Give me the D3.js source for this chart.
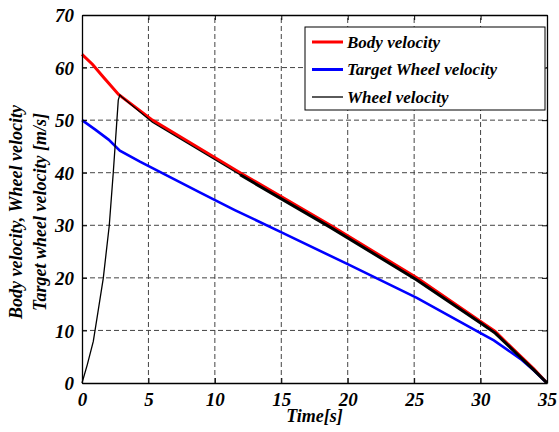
<!DOCTYPE html>
<html>
<head>
<meta charset="utf-8">
<style>
  body { margin: 0; background: #fff; }
  .main svg text { font-family: "Times New Roman", "Liberation Serif", serif !important; font-weight: 700 !important; font-style: italic !important; }
</style>
</head>
<body>
<div class="main"></div>
<script src="https://cdn.jsdelivr.net/npm/d3@7"></script>
<script>

// body velocity (red)
const bodyTime  = [0, 0.8, 1.6, 2.75, 5.3, 11.9, 18.7, 25.2, 30, 31.1, 33, 34, 35]
const bodyValue = [62.5, 60.6, 58.2, 54.9, 50, 40, 30, 20, 11.7, 9.8, 5.1, 2.7, 0]

// target wheel velocity (blue)
const targetTime  = [0, 1, 2, 2.85, 4.36, 8.9, 11.5, 14.9, 20, 25.2, 30, 31, 33, 34, 35]
const targetValue = [50, 48.2, 46.3, 44.2, 42.1, 36.2, 32.9, 28.8, 22.6, 16.2, 9.5, 8.1, 4.6, 2.4, 0]

// wheel velocity (black)
const wheelTime  = [0, 0.4, 0.85, 1.2, 1.6, 2.05, 2.35, 2.6, 2.73, 2.85, 3.0, 5.3, 11.9, 18.7, 25.2, 30, 31.1, 33, 34, 35]
const wheelValue = [0, 3.5, 7.9, 13.5, 19.9, 29.9, 39.9, 49, 53.8, 54.8, 54.4, 49.6, 39.6, 29.6, 19.6, 11.4, 9.5, 4.9, 2.5, 0]

const xTicks = [0, 5, 10, 15, 20, 25, 30, 35]
const yTicks = [0, 10, 20, 30, 40, 50, 60, 70]

const legendNames = ["Body velocity", "Target Wheel velocity", "Wheel velocity"]
const legendColors = ["#ff0000", "#0000ff", "#000000"]

const chart = () => {

    ////////////
    // CANVAS //
    ////////////

    const w = 559
    const h = 432
    const padding = { top: 15, right: 12, bottom: 49, left: 82 }

    const svg = d3.select(".main")
        .append("svg")
        .attr("width", w)
        .attr("height", h)
        .attr("font-family", "Times New Roman")
        .attr("font-weight", "bold")
        .attr("font-style", "italic")

    ////////////
    // SCALES //
    ////////////

    const xScale = d3.scaleLinear()
        .domain([0, 35])
        .range([padding.left, w - padding.right])

    const yScale = d3.scaleLinear()
        .domain([0, 70])
        .range([h - padding.bottom, padding.top])

    //////////
    // GRID //
    //////////

    const grid = svg.append("g")
        .attr("stroke", "#444")
        .attr("stroke-width", 1)
        .attr("stroke-dasharray", "5,3")

    grid.selectAll(".vgrid")
        .data(xTicks.slice(1, -1))
        .enter()
        .append("line")
        .attr("x1", d => xScale(d))
        .attr("x2", d => xScale(d))
        .attr("y1", yScale(0))
        .attr("y2", yScale(70))

    grid.selectAll(".hgrid")
        .data(yTicks.slice(1, -1))
        .enter()
        .append("line")
        .attr("x1", xScale(0))
        .attr("x2", xScale(35))
        .attr("y1", d => yScale(d))
        .attr("y2", d => yScale(d))

    ///////////
    // LINES //
    ///////////

    const line = d3.line()
        .x(d => xScale(d[0]))
        .y(d => yScale(d[1]))

    const bodyData = d3.zip(bodyTime, bodyValue)
    const targetData = d3.zip(targetTime, targetValue)
    const wheelData = d3.zip(wheelTime, wheelValue)

    svg.append("path")
        .attr("d", line(bodyData))
        .attr("fill", "none")
        .attr("stroke", legendColors[0])
        .attr("stroke-width", 3)

    svg.append("path")
        .attr("d", line(targetData))
        .attr("fill", "none")
        .attr("stroke", legendColors[1])
        .attr("stroke-width", 2.6)

    svg.append("path")
        .attr("d", line(wheelData))
        .attr("fill", "none")
        .attr("stroke", legendColors[2])
        .attr("stroke-width", 1.3)

    // the wheel signal chatters later on, drawn as a thicker trace
    svg.append("path")
        .attr("d", line(wheelData.filter(d => d[0] >= 11.9)))
        .attr("fill", "none")
        .attr("stroke", legendColors[2])
        .attr("stroke-width", 3)

    ///////////
    // AXLES //
    ///////////

    const xAxis = d3.axisBottom(xScale).tickValues(xTicks).tickSizeInner(-5).tickSizeOuter(0).tickPadding(10)
    const yAxis = d3.axisLeft(yScale).tickValues(yTicks).tickSizeInner(-5).tickSizeOuter(0).tickPadding(8)

    const xAxisDefined = svg.append("g")
        .attr("transform", `translate(0, ${h - padding.bottom})`)
        .call(xAxis)

    const yAxisDefined = svg.append("g")
        .attr("transform", `translate(${padding.left}, 0)`)
        .call(yAxis)

    svg.append("g")
        .attr("transform", `translate(0, ${padding.top})`)
        .call(d3.axisTop(xScale).tickValues(xTicks).tickSizeInner(-5).tickSizeOuter(0).tickFormat(""))

    svg.append("g")
        .attr("transform", `translate(${w - padding.right}, 0)`)
        .call(d3.axisRight(yScale).tickValues(yTicks).tickSizeInner(-5).tickSizeOuter(0).tickFormat(""))

    // d3 axes put their own sans-serif font on the group, drop it
    svg.selectAll("g").attr("font-family", null)
    svg.selectAll(".domain").attr("stroke", "#000").attr("stroke-width", 1.3)
    svg.selectAll(".tick line").attr("stroke", "#000")

    xAxisDefined.attr("font-size", 19)
    yAxisDefined.attr("font-size", 19)
    xAxisDefined.selectAll("text").attr("fill", "#000")
    yAxisDefined.selectAll("text").attr("fill", "#000").attr("dy", "0.35em")

    svg.append("text")
        .text("Time[s]")
        .attr("x", (xScale(0) + xScale(35)) / 2)
        .attr("y", 422)
        .attr("text-anchor", "middle")
        .attr("font-size", 18)

    const ySubtitle = svg.append("g")
        .attr("transform", `translate(0, 212) rotate(-90)`)
        .attr("font-size", 18)

    ySubtitle.append("text")
        .text("Body velocity, Wheel velocity")
        .attr("x", 0)
        .attr("y", 22)
        .attr("text-anchor", "middle")

    ySubtitle.append("text")
        .text("Target wheel velocity [m/s]")
        .attr("x", 0)
        .attr("y", 46)
        .attr("text-anchor", "middle")

    ////////////
    // LEGEND //
    ////////////

    const legend = svg.append("g")
        .attr("transform", "translate(305, 27)")
        .attr("font-size", 17)

    legend.append("rect")
        .attr("width", 240)
        .attr("height", 83)
        .attr("fill", "#fff")
        .attr("stroke", "#000")
        .attr("stroke-width", 1)

    const items = legend.selectAll(".item")
        .data(legendNames)
        .enter()
        .append("g")
        .attr("transform", (d, i) => `translate(0, ${15 + i * 27.5})`)

    items.append("line")
        .attr("x1", 7)
        .attr("x2", 38)
        .attr("stroke", (d, i) => legendColors[i])
        .attr("stroke-width", (d, i) => i === 2 ? 1.3 : 3)

    items.append("text")
        .text(d => d)
        .attr("x", 42)
        .attr("dy", "0.35em")
}

chart()

</script>
</body>
</html>
